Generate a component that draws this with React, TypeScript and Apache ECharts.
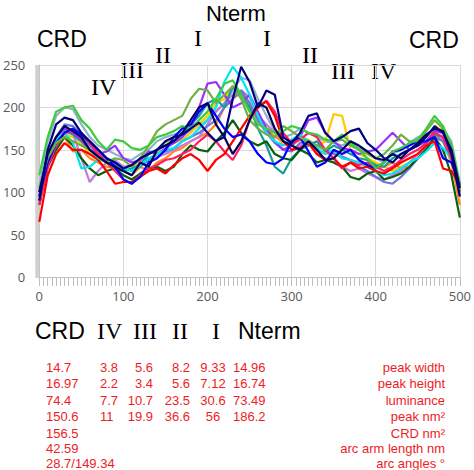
import React, { useEffect, useRef } from "react";
import * as echarts from "echarts";

const X = [0,10,20,30,40,50,60,70,80,90,100,110,120,130,140,150,160,170,180,190,200,210,220,230,240,250,260,270,280,290,300,310,320,330,340,350,360,370,380,390,400,410,420,430,440,450,460,470,480,490,500];

const red = [65,120,145,158,150,150,145,138,125,110,112,112,118,125,128,122,132,140,145,138,125,138,145,160,175,190,200,207,190,160,150,152,158,145,138,140,130,135,128,130,125,122,128,135,140,145,155,160,128,125,108];
const navy = [90,150,180,188,185,170,160,150,140,135,128,132,140,145,150,160,165,168,175,182,170,160,165,210,248,230,200,220,215,165,158,170,190,193,170,160,165,172,175,158,150,140,135,145,150,155,165,178,170,150,105];
const navy2 = [100,145,165,178,172,165,150,142,135,130,125,120,135,130,150,155,160,170,185,200,205,180,165,145,160,185,205,200,175,160,155,150,160,150,138,140,150,160,155,148,140,138,145,140,150,158,168,175,172,145,95];
const blue = [95,135,158,170,175,168,160,150,140,130,115,110,118,135,140,150,165,175,180,195,205,190,175,165,168,160,145,135,133,140,160,165,148,130,135,150,145,150,138,132,128,135,148,150,155,160,160,165,140,135,110];
const green = [120,165,195,200,202,185,175,160,150,162,160,152,150,155,165,168,172,178,175,185,195,210,228,232,215,195,180,175,170,172,178,175,170,168,162,160,168,158,150,140,128,135,148,152,158,162,175,190,178,155,110];
const olive = [105,140,158,165,160,155,150,140,135,140,138,130,140,155,172,180,185,190,210,222,220,205,215,225,210,185,175,168,165,178,172,165,158,155,150,160,162,155,150,145,140,145,155,168,160,160,172,185,175,155,100];
const darkGreen = [85,130,150,165,155,140,128,120,125,128,120,115,122,128,130,125,130,145,155,150,148,160,170,185,170,160,155,160,145,140,138,150,145,135,138,135,130,118,115,122,125,115,118,122,130,140,150,165,150,120,70];
const cyan = [100,140,162,170,158,128,130,138,140,135,128,125,132,140,145,150,152,160,165,175,185,200,230,248,235,215,190,170,160,155,162,168,160,152,145,150,140,138,135,130,125,120,122,128,135,140,148,158,152,140,100];
const teal = [95,140,160,172,168,160,150,140,135,128,125,128,132,145,150,155,160,168,180,190,205,210,200,225,215,200,175,155,130,122,140,150,155,160,148,155,150,145,140,138,132,130,140,145,150,155,160,168,165,150,105];
const purple = [100,145,165,175,170,162,150,145,148,155,140,135,138,148,145,152,158,165,175,200,228,230,215,200,205,215,195,175,160,150,155,165,185,188,170,160,152,150,145,148,150,160,170,160,150,155,160,172,170,150,100];
const crimson = [85,130,155,170,172,168,158,145,135,125,115,110,120,128,132,138,140,145,150,160,168,160,148,138,155,185,200,208,195,170,158,162,170,165,150,140,128,135,132,135,130,125,130,138,145,150,158,170,165,140,100];
const yellow = [95,140,160,168,165,158,145,140,138,135,130,128,135,145,148,160,158,162,170,180,190,205,210,225,215,200,185,175,170,155,160,165,162,155,160,192,190,150,145,140,135,130,125,130,135,145,155,178,172,150,105];
const orange = [90,130,155,165,148,150,140,135,130,128,125,120,130,125,135,140,148,152,160,165,170,180,200,210,218,205,185,175,165,160,155,162,158,150,145,148,140,138,135,132,128,130,135,128,130,140,150,168,160,135,85];
const orchid = [90,140,165,178,170,140,112,125,135,138,130,132,138,140,142,145,150,155,160,165,180,195,205,215,220,212,190,180,170,160,150,155,158,145,140,135,130,125,128,122,118,115,120,125,135,145,155,165,162,145,95];
const periwinkle = [95,140,165,180,178,168,155,145,138,132,128,125,130,138,145,148,152,160,165,170,178,185,200,210,220,205,185,170,158,150,148,158,160,155,150,145,142,138,130,125,118,112,110,118,128,140,152,165,160,140,100];
const greyBlue = [105,160,190,200,198,180,165,155,150,145,140,138,145,150,160,165,168,170,172,178,185,195,205,220,235,232,210,190,172,165,168,175,170,165,160,158,155,160,152,148,140,135,145,150,158,165,168,172,175,160,110];

const SERIES: [string, number[]][] = [
  ["#8fb3c9", greyBlue],
  ["#ffcc00", yellow],
  ["#ff8a1e", orange],
  ["#c77bd9", orchid],
  ["#6b74e0", periwinkle],
  ["#169c9c", teal],
  ["#0b5e0b", darkGreen],
  ["#9b30ff", purple],
  ["#00e6f0", cyan],
  ["#ff1e63", crimson],
  ["#ff0000", red],
  ["#0000ff", blue],
  ["#6fb040", olive],
  ["#3dcc3d", green],
  ["#00005e", navy2],
  ["#000080", navy],
];

const colCRD = ["14.7", "16.97", "74.4", "150.6", "156.5", "42.59", "28.7/149.34"];
const colIV = ["3.8", "2.2", "7.7", "11"];
const colIII = ["5.6", "3.4", "10.7", "19.9"];
const colII = ["8.2", "5.6", "23.5", "36.6"];
const colI = ["9.33", "7.12", "30.6", "56"];
const colNterm = ["14.96", "16.74", "73.49", "186.2"];
const rowLabels = ["peak width", "peak height", "luminance", "peak nm²", "CRD nm²", "arc arm length nm", "arc angles °"];

const rowY = [367, 383.5, 400, 416.5, 433, 448, 463];

export default function App() {
  const ref = useRef<HTMLDivElement>(null);
  useEffect(() => {
    if (!ref.current) return;
    const chart = echarts.init(ref.current, null, { renderer: "svg" });
    const sans = "Liberation Sans, Arial, sans-serif";
    const serif = "Liberation Serif, Times New Roman, serif";
    const big = (text: string, x: number, y: number, serifFont = false, align = "left", size = 23) => ({
      type: "text",
      style: {
        text, x, y,
        font: serifFont ? `24px ${serif}` : `${size}px ${sans}`,
        fill: "#000",
        textAlign: align,
        textVerticalAlign: "middle",
      },
    });
    const red = (text: string, x: number, y: number, align = "left") => ({
      type: "text",
      style: { text, x, y, font: `13px ${sans}`, fill: "#ee1c25", textAlign: align, textVerticalAlign: "middle" },
    });
    const graphics: any[] = [
      big("Nterm", 236, 13, false, "center", 22),
      big("CRD", 37, 39),
      big("CRD", 409, 40),
      big("IV", 91, 87, true),
      big("III", 120, 70, true),
      big("II", 155, 55, true),
      big("I", 194, 38, true),
      big("I", 263, 38, true),
      big("II", 302, 55, true),
      big("III", 331, 71, true),
      big("IV", 371, 71, true),
      big("CRD", 35, 331),
      big("IV", 97, 331, true),
      big("III", 133, 331, true),
      big("II", 172, 331, true),
      big("I", 212, 331, true),
      big("Nterm", 238, 331),
    ];
    colCRD.forEach((t, i) => graphics.push(red(t, 46, rowY[i])));
    colIV.forEach((t, i) => graphics.push(red(t, 100, rowY[i])));
    colIII.forEach((t, i) => graphics.push(red(t, 153, rowY[i], "right")));
    colII.forEach((t, i) => graphics.push(red(t, 190, rowY[i], "right")));
    colI.forEach((t, i) => graphics.push(red(t, 213, rowY[i], "center")));
    colNterm.forEach((t, i) => graphics.push(red(t, 233, rowY[i])));
    rowLabels.forEach((t, i) => graphics.push(red(t, 445, rowY[i], "right")));

    chart.setOption({
      animation: false,
      backgroundColor: "#fff",
      grid: { left: 36, right: 12, top: 65, bottom: 193, containLabel: false },
      xAxis: {
        type: "value",
        min: 0,
        max: 500,
        interval: 100,
        axisLine: { show: true, lineStyle: { color: "#bfbfbf", width: 1 } },
        axisTick: { show: true, length: 9, lineStyle: { color: "#bfbfbf" } },
        minorTick: { show: true, splitNumber: 20, length: 9, lineStyle: { color: "#bfbfbf" } },
        splitLine: { show: true, lineStyle: { color: "#d9d9d9" } },
        axisLabel: { color: "#595959", fontSize: 13, fontFamily: "Open Sans, sans-serif", margin: 12 },
      },
      yAxis: {
        type: "value",
        min: 0,
        max: 250,
        interval: 50,
        axisLine: { show: true, lineStyle: { color: "#bfbfbf", width: 1 } },
        axisTick: { show: true, length: 4, lineStyle: { color: "#d0d0d0" } },
        minorTick: { show: true, splitNumber: 50, length: 4, lineStyle: { color: "#d0d0d0" } },
        splitLine: { show: true, lineStyle: { color: "#d9d9d9" } },
        axisLabel: { color: "#595959", fontSize: 13, fontFamily: "Open Sans, sans-serif", margin: 14 },
      },
      series: SERIES.map(([color, vals]) => ({
        type: "line",
        data: X.map((x, i) => [x, vals[i]]),
        showSymbol: false,
        symbol: "none",
        lineStyle: { color, width: 2.2 },
        itemStyle: { color },
        silent: true,
      })),
      graphic: graphics,
    });
    return () => chart.dispose();
  }, []);
  return <div ref={ref} style={{ position: "fixed", left: 0, top: 0, width: 474, height: 470 }} />;
}
